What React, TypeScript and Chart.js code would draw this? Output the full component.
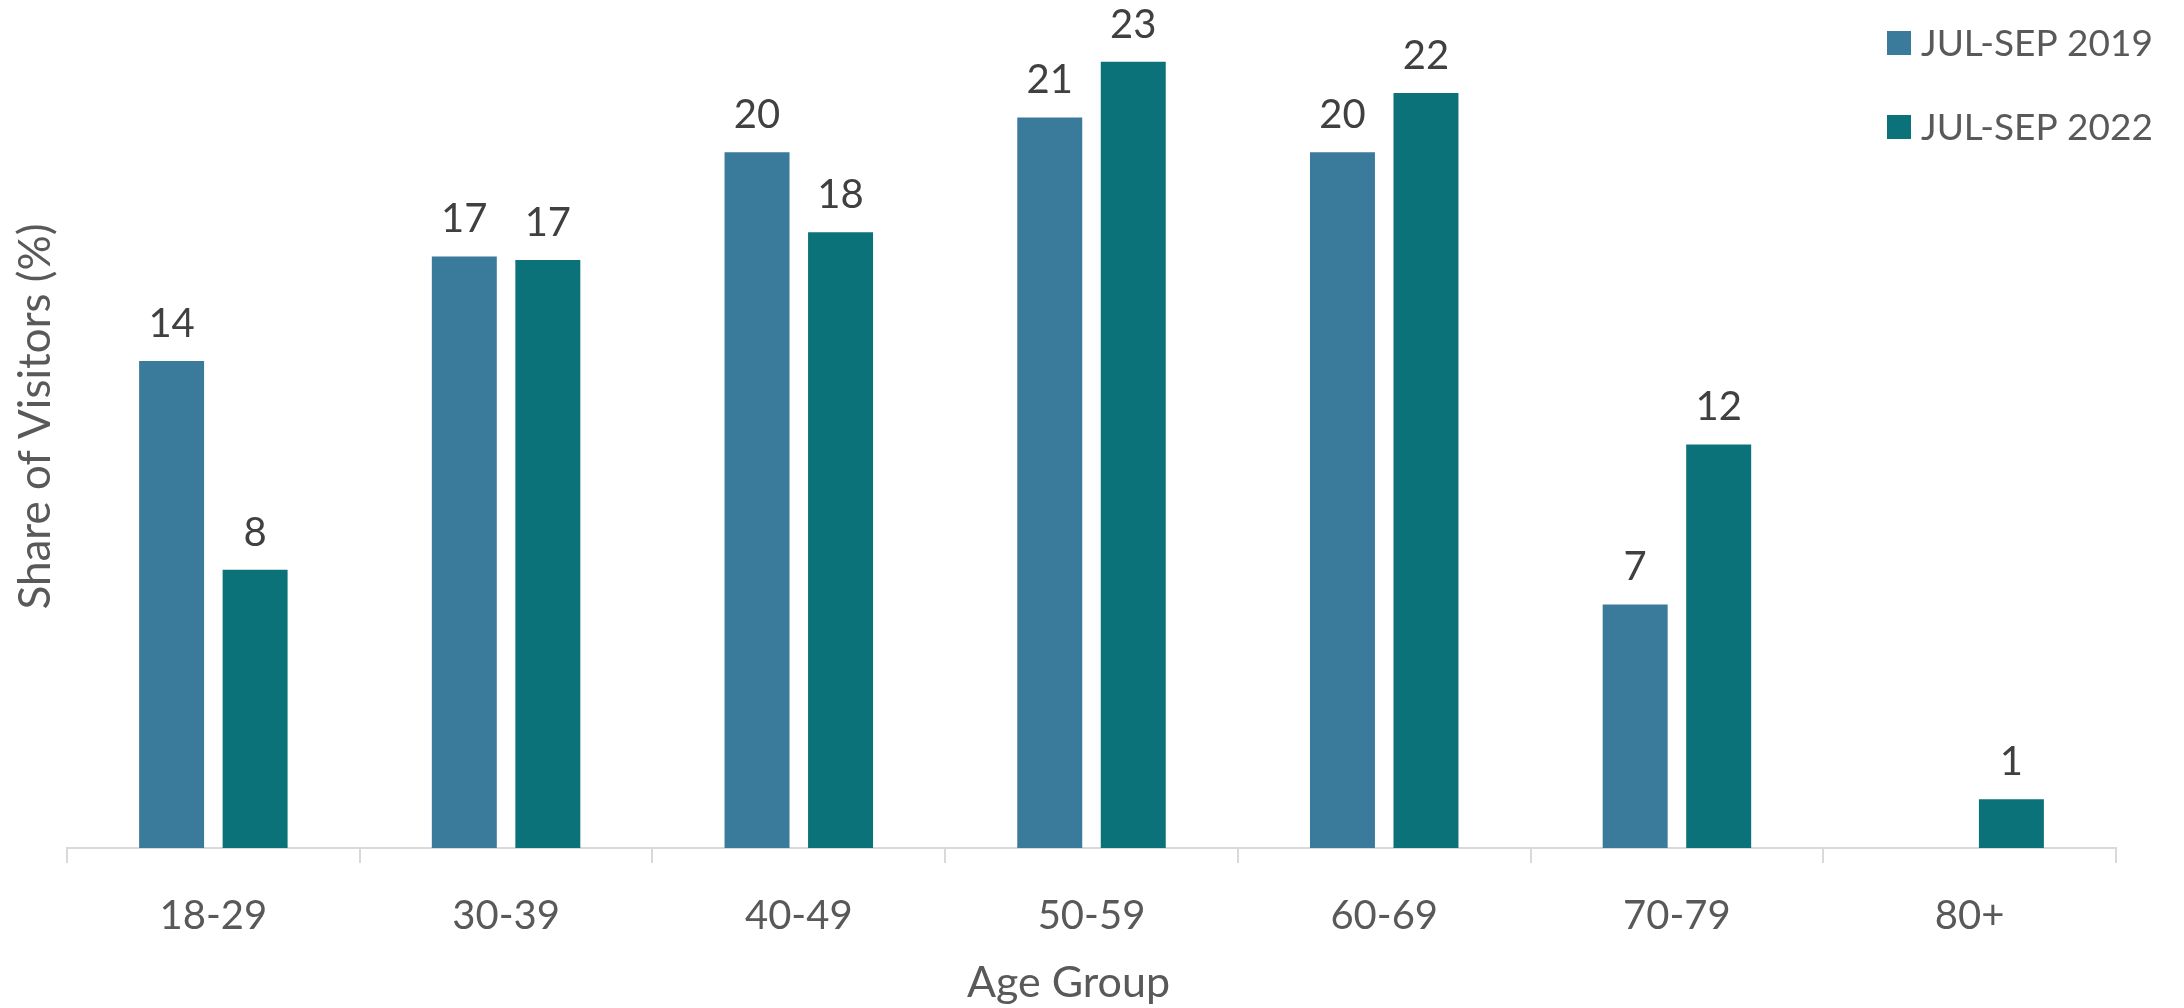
import React, { useEffect, useRef } from 'react';
import { Chart, registerables } from 'chart.js';

Chart.register(...registerables);

const categories = ['18-29', '30-39', '40-49', '50-59', '60-69', '70-79', '80+'];
const series2019 = [14.0, 17.0, 20.0, 21.0, 20.0, 7.0, null];
const series2022 = [8.0, 16.9, 17.7, 22.6, 21.7, 11.6, 1.4];
const seriesLabels = ['JUL-SEP 2019', 'JUL-SEP 2022'];
const seriesColors = ['#3A7A9B', '#0C7279'];
const xTitle = 'Age Group';
const yTitle = 'Share of Visitors (%)';
const yMax = 24;

const FONT = 'Lato';

const valueLabels = {
  id: 'valueLabels',
  afterDatasetsDraw(chart: any) {
    const ctx = chart.ctx;
    ctx.save();
    ctx.font = `40px ${FONT}`;
    ctx.fillStyle = '#404040';
    ctx.textAlign = 'center';
    ctx.textBaseline = 'middle';
    chart.data.datasets.forEach((ds: any, i: number) => {
      const meta = chart.getDatasetMeta(i);
      meta.data.forEach((el: any, j: number) => {
        const v = ds.data[j];
        if (v == null) return;
        ctx.fillText(String(Math.round(v)), el.x, el.y - 37);
      });
    });
    ctx.restore();
  },
};

const axisTitles = {
  id: 'axisTitles',
  afterDraw(chart: any) {
    const ctx = chart.ctx;
    const ca = chart.chartArea;
    ctx.save();
    ctx.fillStyle = '#595959';
    ctx.textAlign = 'center';
    ctx.textBaseline = 'middle';
    ctx.font = `43px ${FONT}`;
    ctx.fillText(xTitle, (ca.left + ca.right) / 2 - 23, chart.height - 25);
    ctx.translate(36, (ca.top + ca.bottom) / 2 - 14);
    ctx.rotate(-Math.PI / 2);
    ctx.font = `44px ${FONT}`;
    ctx.fillText(yTitle, 0, 0);
    ctx.restore();
  },
};

const customLegend = {
  id: 'customLegend',
  afterDraw(chart: any) {
    const ctx = chart.ctx;
    ctx.save();
    ctx.font = `37px ${FONT}`;
    ctx.textAlign = 'left';
    ctx.textBaseline = 'middle';
    const x0 = chart.width - 297;
    chart.data.datasets.forEach((ds: any, i: number) => {
      const cy = 43 + i * 84;
      ctx.fillStyle = ds.backgroundColor;
      ctx.fillRect(x0, cy - 12, 24, 24);
      ctx.fillStyle = '#595959';
      ctx.fillText(ds.label, x0 + 34, cy + 1);
    });
    ctx.restore();
  },
};

export default function App() {
  const ref = useRef<HTMLCanvasElement | null>(null);

  useEffect(() => {
    document.body.style.margin = '0';
    const canvas = ref.current;
    if (!canvas) return;
    const chart = new Chart(canvas, {
      type: 'bar',
      data: {
        labels: categories,
        datasets: [
          {
            label: seriesLabels[0],
            data: series2019,
            backgroundColor: seriesColors[0],
            categoryPercentage: 0.5706,
            barPercentage: 0.778,
          },
          {
            label: seriesLabels[1],
            data: series2022,
            backgroundColor: seriesColors[1],
            categoryPercentage: 0.5706,
            barPercentage: 0.778,
          },
        ],
      },
      options: {
        responsive: false,
        animation: false,
        layout: { padding: { top: 13, right: 68, left: 0, bottom: 0 } },
        plugins: {
          legend: { display: false },
          tooltip: { enabled: false },
        },
        scales: {
          x: {
            grid: {
              display: true,
              drawOnChartArea: false,
              drawTicks: true,
              tickLength: 15,
              color: '#d9d9d9',
              lineWidth: 2,
              offset: true,
            },
            border: { display: true, color: '#d9d9d9', width: 2 },
            ticks: {
              color: '#595959',
              font: { family: FONT, size: 40 },
              padding: 29,
            },
            title: { display: false, text: xTitle },
            afterFit: (s: any) => {
              s.height = 160;
            },
          },
          y: {
            min: 0,
            max: yMax,
            ticks: { display: false },
            grid: { display: false },
            border: { display: false },
            title: { display: false, text: yTitle },
            afterFit: (s: any) => {
              s.width = 67;
            },
          },
        },
      },
      plugins: [valueLabels, axisTitles, customLegend],
    } as any);
    return () => chart.destroy();
  }, []);

  return (
    <div style={{ width: 2184, height: 1008 }}>
      <canvas ref={ref} width={2184} height={1008} style={{ display: 'block', width: 2184, height: 1008 }} />
    </div>
  );
}
